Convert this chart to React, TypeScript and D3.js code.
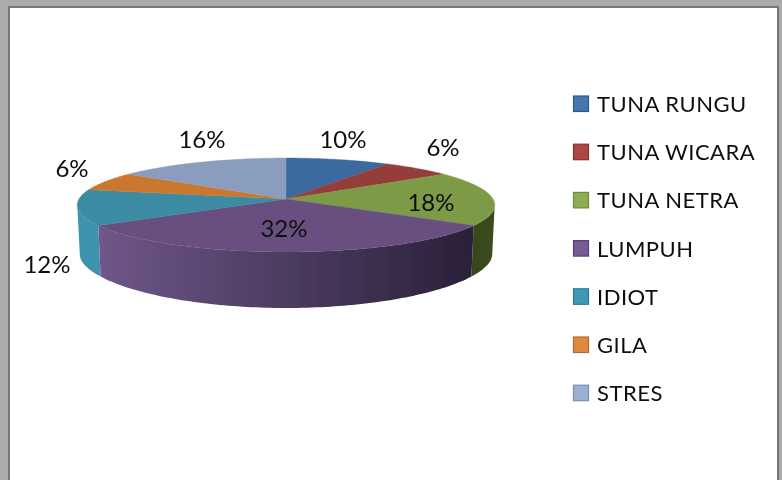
import React from "react";
import * as d3 from "d3";

const categories = ["TUNA RUNGU", "TUNA WICARA", "TUNA NETRA", "LUMPUH", "IDIOT", "GILA", "STRES"];
const values = [10, 6, 18, 32, 12, 6, 16];
const topColors = ["#3c6a9e", "#953c3a", "#7d9a47", "#67507f", "#3a8ba3", "#c9782f", "#8a9dbf"];
const wallFrom = ["#3c6a9e", "#953c3a", "#36451b", "#735a8e", "#3f93ad", "#c9782f", "#8a9dbf"];
const wallTo = ["#3c6a9e", "#953c3a", "#3c4c1e", "#2a2038", "#3a8ba3", "#c9782f", "#8a9dbf"];
const swatchFill = ["#4477ae", "#ac4642", "#8fab53", "#765b93", "#4199b4", "#de8a3e", "#9bb0d3"];
const swatchEdge = ["#2f5a8a", "#86322f", "#6f8a3a", "#58437a", "#2c7a92", "#b4692a", "#7a8fb0"];
const labelPositions: [number, number][] = [[343, 138.5], [443, 146.5], [431, 201.5], [284, 227.5], [47, 263.5], [72, 167.5], [202, 138.5]];

const cx = 286, apexY = 199, a = 207, b = 46.2, p = 0.128, backWarp = 0.055;
const warp = (t: number) => (Math.cos(t) > 0 ? t - backWarp * Math.sin(2 * t) : t);
const project = (t0: number): [number, number] => {
  const t = warp(t0);
  const x = Math.sin(t), y = -Math.cos(t), w = 1 - p * y;
  return [cx + (a * x) / w, apexY + (b * y) / w];
};
const projectBottom = (t: number): [number, number] => {
  const [x, y] = project(t);
  const yy = -Math.cos(t);
  return [cx + (x - cx) * 0.988, y + 49 + 7 * yy * yy];
};
const samples = (s: number, e: number) => {
  const n = Math.max(2, Math.ceil((e - s) / 0.02));
  return d3.range(n + 1).map((i) => s + ((e - s) * i) / n);
};
const line = d3.line<[number, number]>();
const arcs = d3.pie<number>().sort(null).startAngle(0).endAngle(2 * Math.PI)(values);
const wallStart = (97.4 * Math.PI) / 180;
const wallEnd = (262.6 * Math.PI) / 180;

export default function App() {
  return (
    <svg width={782} height={480} style={{ position: "absolute", left: 0, top: 0 }} fontFamily="Lato, sans-serif">
      <defs>
        {arcs.map((_, i) => (
          <linearGradient key={i} id={`wall${i}`} gradientUnits="userSpaceOnUse" x1={i === 2 ? 470 : 77} x2={i === 2 ? 495 : 472} y1={0} y2={0}>
            <stop offset="0" stopColor={wallFrom[i]} />
            <stop offset="1" stopColor={wallTo[i]} />
          </linearGradient>
        ))}
        <filter id="soft"><feGaussianBlur stdDeviation="0.45" /></filter>
      </defs>
      <rect width={782} height={480} fill="#ababab" />
      <rect x={9} y={7} width={769} height={480} fill="#ffffff" stroke="#777777" strokeWidth={2} />
      <g filter="url(#soft)">
        {arcs.map((d, i) => {
          const s = Math.max(d.startAngle, wallStart), e = Math.min(d.endAngle, wallEnd);
          if (e <= s) return null;
          const pts = [...samples(s, e).map(project), ...samples(s, e).reverse().map(projectBottom)];
          return <path key={i} d={line(pts) + "Z"} fill={`url(#wall${i})`} />;
        })}
        {arcs.map((d, i) => {
          const pts: [number, number][] = [[cx, apexY], ...samples(d.startAngle, d.endAngle).map(project)];
          return <path key={i} d={line(pts) + "Z"} fill={topColors[i]} stroke={topColors[i]} strokeWidth={0.4} />;
        })}
        {values.map((v, i) => (
          <text key={i} x={labelPositions[i][0]} y={labelPositions[i][1]} textAnchor="middle" dominantBaseline="central" fontSize={24} fill="#111111">
            {v}%
          </text>
        ))}
        {categories.map((c, i) => (
          <g key={c} transform={`translate(0,${104 + i * 48.2})`}>
            <rect x={573.5} y={-8} width={15} height={15.5} fill={swatchFill[i]} stroke={swatchEdge[i]} strokeWidth={1.2} />
            <text x={597} y={-0.5} dominantBaseline="central" fontSize={22} letterSpacing={0.5} fill="#111111">{c}</text>
          </g>
        ))}
      </g>
    </svg>
  );
}
